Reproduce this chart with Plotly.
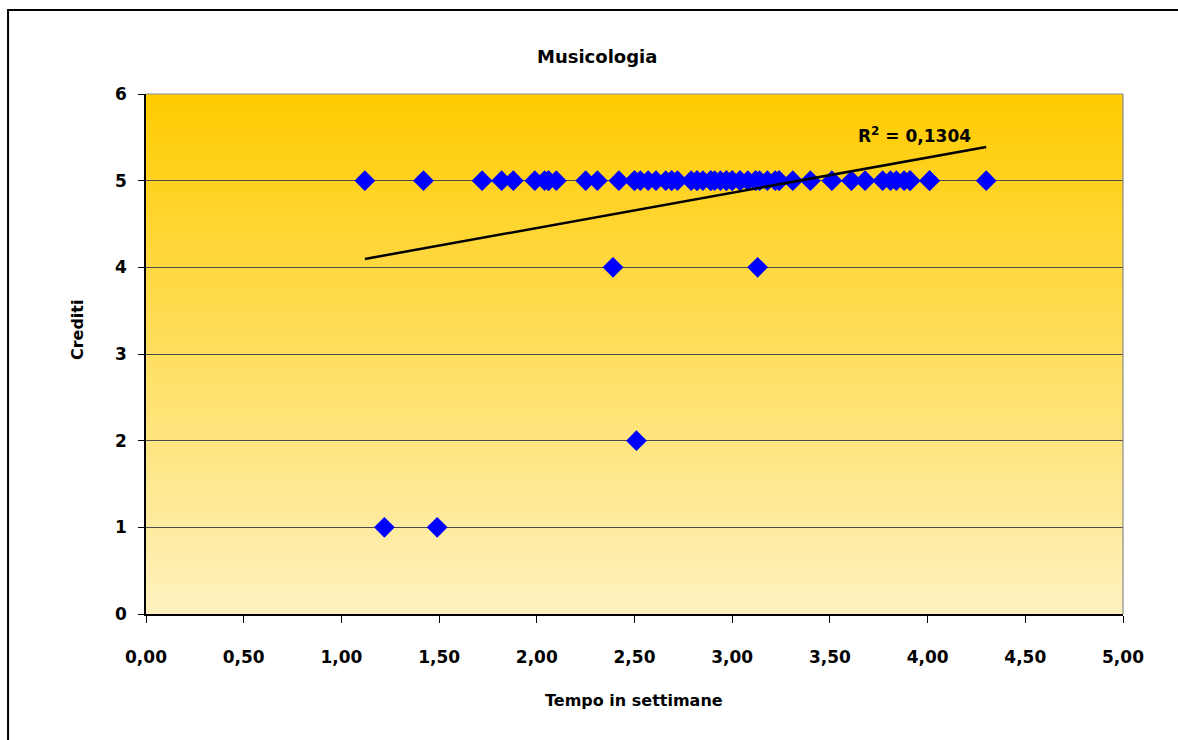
import numpy as np
import plotly.graph_objects as go

# Tempo (settimane) e crediti conseguiti per ogni studente
tempo_5 = [
    1.12, 1.42, 1.72, 1.82, 1.88, 1.99, 2.04, 2.06, 2.06, 2.10, 2.25, 2.31,
    2.42, 2.50, 2.50, 2.53, 2.57, 2.61, 2.66, 2.69, 2.69, 2.72, 2.79, 2.82,
    2.82, 2.85, 2.89, 2.89, 2.91, 2.94, 2.97, 2.97, 3.00, 3.00, 3.04, 3.04,
    3.08, 3.12, 3.12, 3.14, 3.18, 3.22, 3.24, 3.24, 3.31, 3.40, 3.51, 3.61,
    3.68, 3.77, 3.81, 3.84, 3.88, 3.91, 3.91, 4.01, 4.01, 4.30,
]
crediti_5 = [5] * len(tempo_5)
tempo_altri = [2.39, 3.13, 2.51, 1.22, 1.49]
crediti_altri = [4, 4, 2, 1, 1]

tempo = np.array(tempo_5 + tempo_altri)
crediti = np.array(crediti_5 + crediti_altri)

titolo = "Musicologia"
titolo_x = "Tempo in settimane"
titolo_y = "Crediti"
etichetta_r2 = "R<sup>2</sup> = 0,1304"

# Linea di tendenza lineare (minimi quadrati)
pend, interc = np.polyfit(tempo, crediti, 1)
x_trend = np.array([tempo.min(), tempo.max()])
y_trend = interc + pend * x_trend

FONT = "DejaVu Sans"

fig = go.Figure()
fig.add_trace(go.Scatter(
    x=tempo, y=crediti, mode="markers",
    marker=dict(symbol="diamond", size=16, color="#0000FF", line=dict(width=0)),
    showlegend=False, hoverinfo="x+y",
))
fig.add_trace(go.Scatter(
    x=x_trend, y=y_trend, mode="lines",
    line=dict(color="black", width=2.5), showlegend=False, hoverinfo="skip",
))

# Sfondo sfumato dell'area del grafico (dall'arancio-oro al giallo chiaro)
shapes = []
n_strisce = 130
top = np.array([255, 204, 0])
bottom = np.array([255, 242, 192])
for i in range(n_strisce):
    t = (i + 0.5) / n_strisce
    c = top + (bottom - top) * t
    shapes.append(dict(
        type="rect", xref="x domain", yref="y domain",
        x0=0, x1=1, y0=1 - (i + 1) / n_strisce - 0.001, y1=1 - i / n_strisce,
        fillcolor=f"rgb({int(c[0])},{int(c[1])},{int(c[2])})",
        line=dict(width=0), layer="below",
    ))
# Bordo superiore e destro dell'area del grafico
shapes.append(dict(type="line", xref="x domain", yref="y domain",
                   x0=0, x1=1, y0=1, y1=1, line=dict(color="#8a8a8a", width=1.2),
                   layer="above"))
shapes.append(dict(type="line", xref="x domain", yref="y domain",
                   x0=1, x1=1, y0=0, y1=1, line=dict(color="#8a8a8a", width=1.2),
                   layer="above"))
# Cornice esterna del grafico
shapes.append(dict(type="rect", xref="paper", yref="paper",
                   x0=-0.1412, x1=1.08, y0=-0.27, y1=1.1615,
                   line=dict(color="black", width=2), fillcolor="rgba(0,0,0,0)",
                   layer="above"))

annotations = [
    dict(text=f"<b>{titolo}</b>", xref="paper", yref="paper", x=0.4616, y=1.0712,
         xanchor="center", yanchor="middle", showarrow=False,
         font=dict(family=FONT, size=18, color="black")),
    dict(text=f"<b>{titolo_x}</b>", xref="paper", yref="paper", x=0.4995, y=-0.1654,
         xanchor="center", yanchor="middle", showarrow=False,
         font=dict(family=FONT, size=16, color="black")),
    dict(text=f"<b>{titolo_y}</b>", xref="paper", yref="paper", x=-0.0706, y=0.546,
         xanchor="center", yanchor="middle", showarrow=False, textangle=-90,
         font=dict(family=FONT, size=16, color="black")),
    dict(text=f"<b>{etichetta_r2}</b>", xref="paper", yref="paper", x=0.7267, y=0.921,
         xanchor="left", yanchor="middle", showarrow=False,
         font=dict(family=FONT, size=17, color="black")),
]

fig.update_layout(
    width=1178, height=740,
    margin=dict(l=146, r=55, t=94, b=126),
    paper_bgcolor="white", plot_bgcolor="rgba(0,0,0,0)",
    separators=",.",
    shapes=shapes, annotations=annotations,
    font=dict(family=FONT, size=17, color="black"),
)
fig.update_xaxes(
    range=[0, 5], tickvals=[0, 0.5, 1, 1.5, 2, 2.5, 3, 3.5, 4, 4.5, 5],
    tickformat=".2f", showgrid=False, zeroline=False,
    showline=True, linecolor="black", linewidth=1.5,
    ticks="outside", ticklen=7, tickcolor="black", tickwidth=1.2,
    ticklabelstandoff=20,
    tickfont=dict(family=FONT, size=17, color="black", weight="bold"),
)
fig.update_yaxes(
    range=[0, 6], tickvals=[0, 1, 2, 3, 4, 5, 6],
    showgrid=True, gridcolor="#4a4a4a", gridwidth=1, zeroline=False,
    showline=True, linecolor="black", linewidth=1.5,
    ticks="outside", ticklen=6, tickcolor="black", tickwidth=1.2,
    ticklabelstandoff=8,
    tickfont=dict(family=FONT, size=17, color="black", weight="bold"),
)

fig.write_html("out.html")
